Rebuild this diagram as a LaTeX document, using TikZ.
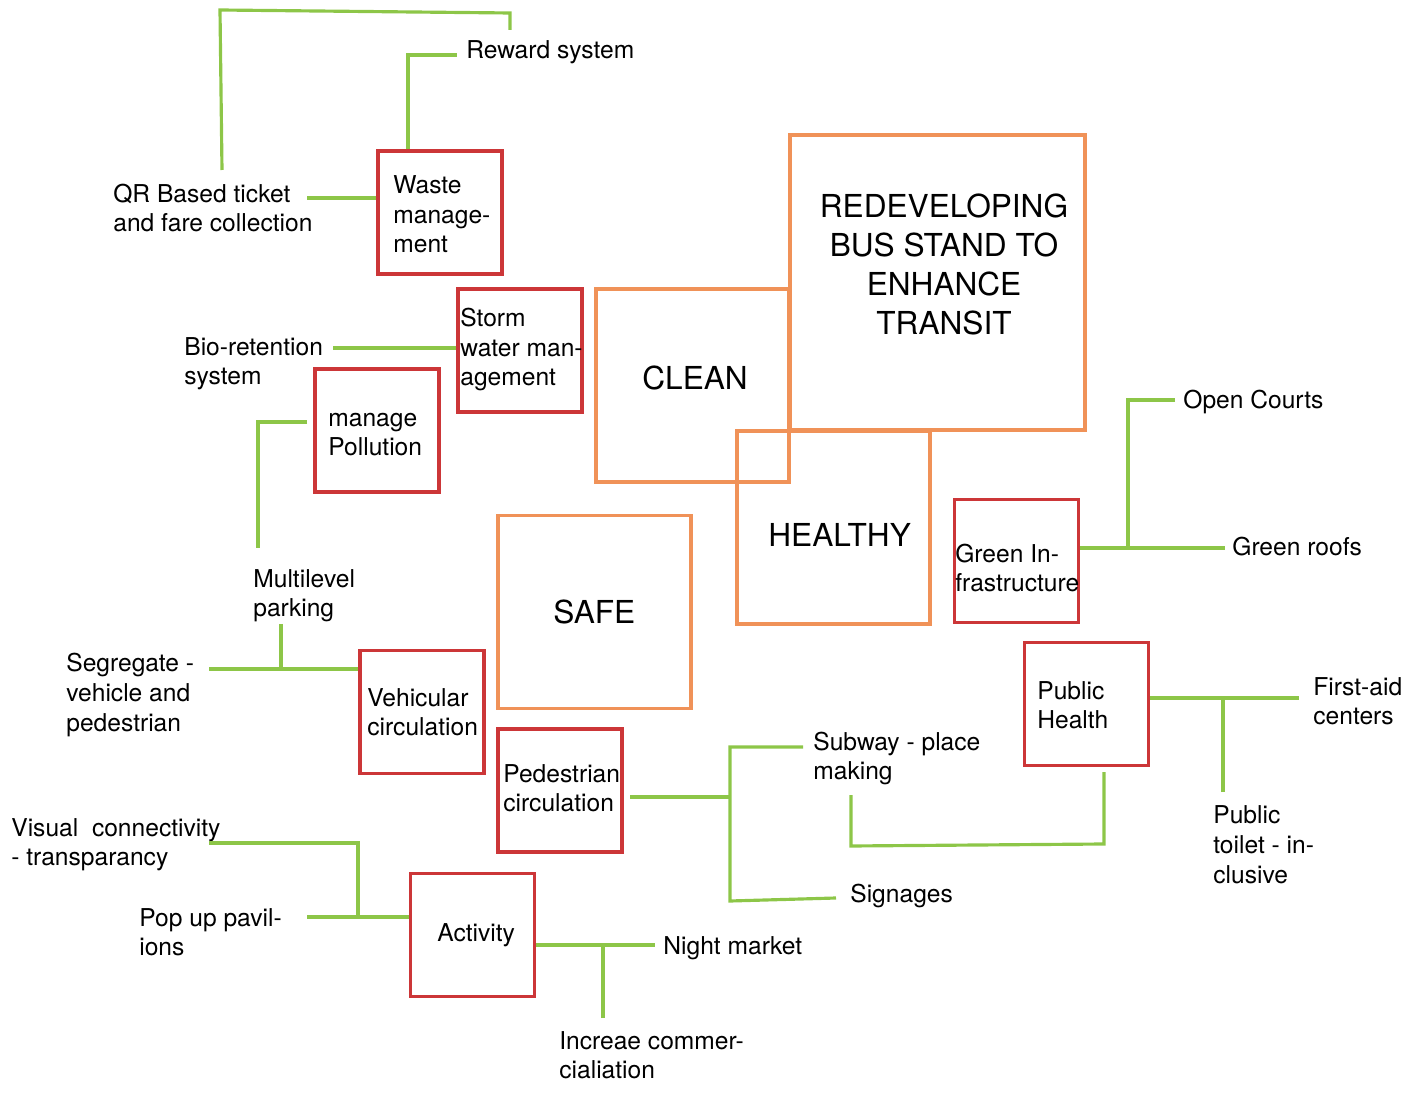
\documentclass[tikz,border=0pt]{standalone}
\usepackage{fontspec}
\setmainfont{TeX Gyre Heros}
\definecolor{hubline}{RGB}{240,146,88}
\definecolor{aimline}{RGB}{204,54,56}
\definecolor{linkgreen}{RGB}{141,198,72}
\def\px{0.02cm}

\begin{document}
\begin{tikzpicture}[x=\px, y=-\px, line join=miter]
		\tikzstyle{hub}
		=[draw=hubline, line width=1.8pt, minimum size=193*\px, inner sep=0pt]
		\tikzstyle{aim}
		=[draw=aimline, line width=1.8pt, minimum width=124*\px, minimum height=123*\px, inner sep=0pt]
		\tikzstyle{txt}
		=[anchor=base west, align=left, inner sep=0pt, font=\fontsize{14}{16.8}\selectfont]
		\tikzstyle{big}
		=[anchor=base west, inner sep=0pt, font=\fontsize{18}{22.3}\selectfont]
		\tikzstyle{link}
		=[draw=linkgreen, line width=1.8pt]
		
		\useasboundingbox (0,0) rectangle (1427,1114);
		
		% Draw the main goal and the three themes
		% (multi-line texts are placed at the baseline of their last line)
		\node[hub, minimum size=295*\px] (goal) at (937.5,282.5) {};
		\node[big, anchor=base, align=center] (goal-t) at (944,335)
		{REDEVELOPING\\BUS STAND TO\\ENHANCE\\TRANSIT};
		\node[hub] (clean) at (692.5,385.5) {};
		\node[hub] (healthy) at (833.5,527.5) {};
		\node[hub] (safe) at (594.5,612) {};
		\node[big] (clean-t) at (642,390) {CLEAN};
		\node[big] (healthy-t) at (768,547) {HEALTHY};
		\node[big] (safe-t) at (553,623) {SAFE};
		
		% Draw the strategy boxes
		\foreach \name / \x / \y in {waste/440/212.5, storm/520/350.5, pollution/377/430.5,
			greeninfra/1016.5/561, publichealth/1086.5/704, vehicular/422/712,
			pedestrian/560/790.5, activity/472.5/935}
		\node[aim] (\name) at (\x,\y) {};
		
		% Texts of the strategy boxes
		\node[txt] (waste-t) at (393,253) {Waste\\manage-\\ment};
		\node[txt] (storm-t) at (460,386) {Storm\\water man-\\agement};
		\node[txt] (pollution-t) at (328,455.6) {manage\\Pollution};
		\node[txt] (greeninfra-t) at (955,591.6) {Green In-\\frastructure};
		\node[txt] (publichealth-t) at (1037,728.6) {Public\\Health};
		\node[txt] (vehicular-t) at (367,735.6) {Vehicular\\circulation};
		\node[txt] (pedestrian-t) at (503,811.6) {Pedestrian\\circulation};
		\node[txt] (activity-t) at (437,941) {Activity};
		
		% Annotate the measures
		\node[txt] (reward) at (466,59) {Reward system};
		\node[txt] (qr) at (113,231.6) {QR Based ticket\\and fare collection};
		\node[txt] (bio) at (184,384.6) {Bio-retention\\system};
		\node[txt] (courts) at (1183,409) {Open Courts};
		\node[txt] (roofs) at (1232,556) {Green roofs};
		\node[txt] (multilevel) at (253,616.6) {Multilevel\\parking};
		\node[txt] (segregate) at (66,731) {Segregate -\\vehicle and\\pedestrian};
		\node[txt] (firstaid) at (1313,724.6) {First-aid\\centers};
		\node[txt] (subway) at (813,779.6) {Subway - place\\making};
		\node[txt] (visual) at (11,865.6) {Visual\ \ connectivity\\- transparancy};
		\node[txt] (toilet) at (1213,883) {Public\\toilet - in-\\clusive};
		\node[txt] (signages) at (850,902) {Signages};
		\node[txt] (popup) at (139,955.6) {Pop up pavil-\\ions};
		\node[txt] (night) at (663,954) {Night market};
		\node[txt] (increae) at (559,1078.6) {Increae commer-\\cialiation};
		
		% Free ends of the connectors
		\coordinate (qr-up) at (222,170);
		\coordinate (reward-up) at (510,30);
		\coordinate (reward-in) at (457,55);
		\coordinate (qr-out) at (307,198);
		\coordinate (bio-out) at (333,348);
		\coordinate (pollution-out) at (307,422);
		\coordinate (multilevel-in) at (258,548);
		\coordinate (courts-in) at (1175,400);
		\coordinate (roofs-in) at (1225,548);
		\coordinate (segregate-out) at (209,669);
		\coordinate (parking-in) at (281,624);
		\coordinate (pedestrian-out) at (630,797);
		\coordinate (subway-in) at (803,747);
		\coordinate (signages-in) at (836,898);
		\coordinate (subway-down) at (851,795);
		\coordinate (health-down) at (1104,772);
		\coordinate (firstaid-in) at (1299,698);
		\coordinate (toilet-in) at (1223,792);
		\coordinate (visual-out) at (209,843);
		\coordinate (popup-out) at (307,917);
		\coordinate (night-in) at (655,945);
		\coordinate (increae-in) at (603,1018);
		
		% Connect the measures with the strategies
		\draw[link] (qr-up) -- (220,10) -- (510,13) -- (reward-up);
		\draw[link] (waste.north -| 408,0) |- (reward-in);
		\draw[link] (qr-out) -- (waste.west |- qr-out);
		\draw[link] (bio-out) -- (storm.west |- bio-out);
		\draw[link] (pollution-out) -| (multilevel-in);
		\draw[link] (greeninfra.east |- roofs-in) -- (roofs-in);
		\draw[link] (courts-in) -| (1128,548);
		\draw[link] (segregate-out) -- (vehicular.west |- segregate-out);
		\draw[link] (parking-in) -- (parking-in |- segregate-out);
		\draw[link] (pedestrian-out) -- (730,797);
		\draw[link] (subway-in) -| (730,901) -- (signages-in);
		\draw[link] (subway-down) -- (851,846) -- (1104,844) -- (health-down);
		\draw[link] (publichealth.east |- firstaid-in) -- (firstaid-in);
		\draw[link] (toilet-in) -- (toilet-in |- firstaid-in);
		\draw[link] (visual-out) -| (358,917);
		\draw[link] (popup-out) -- (activity.west |- popup-out);
		\draw[link] (activity.east |- night-in) -- (night-in);
		\draw[link] (increae-in) -- (increae-in |- night-in);
	\end{tikzpicture}
\end{document}
